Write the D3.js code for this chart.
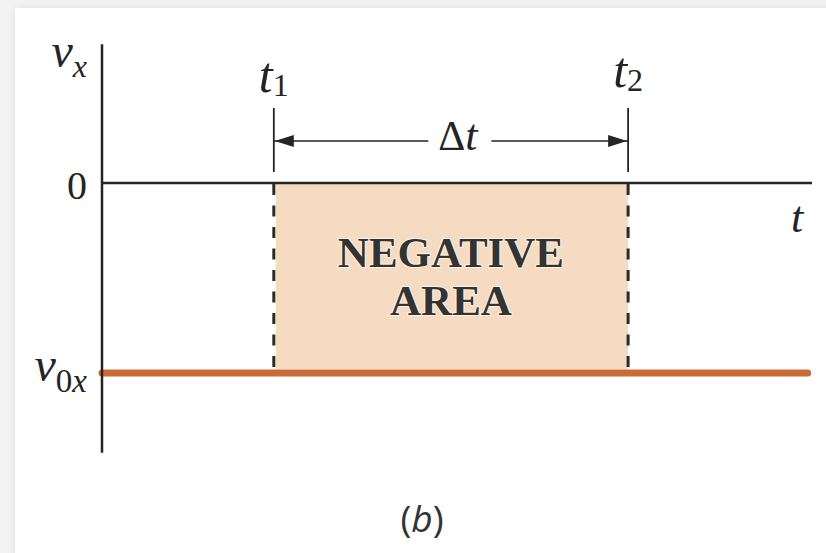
<!DOCTYPE html>
<html>
<head>
<meta charset="utf-8">
<script src="https://cdn.jsdelivr.net/npm/d3@7"></script>
<style>
  html, body { margin: 0; padding: 0; background: #f3f3f3; }
  svg { display: block; }
</style>
</head>
<body>
<svg id="chart" width="826" height="553"></svg>
<script>
// Velocity–time graph: constant negative velocity v0x between t1 and t2
const timeDomain = [0, 10];          // t axis extent
const velocityDomain = [-1, 0];      // v0x .. 0
const axisVelocityExtent = [-1.42, 0.73];
const t1 = 2.42;
const t2 = 7.41;
const tEnd = 9.94;
const v0x = -1;
const velocityTicks = [0, v0x];
const velocityTickLabels = [
  [{ text: "0", italic: false, sub: false }],
  [{ text: "v", italic: true, sub: false }, { text: "0", italic: false, sub: true }, { text: "x", italic: true, sub: true }]
];
const timeMarkers = [t1, t2];
const timeMarkerSubs = ["1", "2"];
const velocitySeries = [[0, v0x], [tEnd, v0x]];
const areaLabelLines = ["NEGATIVE", "AREA"];

const svg = d3.select("#chart");
const W = 826, H = 553;

const x = d3.scaleLinear().domain(timeDomain).range([102, 812]);
const y = d3.scaleLinear().domain(velocityDomain).range([373, 183]);

const ink = "#242424";
const mathFont = "'Liberation Serif', 'DejaVu Serif', serif";

// page backdrop with a soft card
const defs = svg.append("defs");
const shadow = defs.append("filter").attr("id", "cardShadow")
  .attr("x", "-5%").attr("y", "-5%").attr("width", "110%").attr("height", "110%");
shadow.append("feGaussianBlur").attr("in", "SourceAlpha").attr("stdDeviation", 4).attr("result", "b");
shadow.append("feComponentTransfer").attr("in", "b").attr("result", "s")
  .append("feFuncA").attr("type", "linear").attr("slope", 0.08);
const merge = shadow.append("feMerge");
merge.append("feMergeNode").attr("in", "s");
merge.append("feMergeNode").attr("in", "SourceGraphic");

svg.append("rect").attr("width", W).attr("height", H).attr("fill", "#f3f3f3");
svg.append("rect").attr("x", 15).attr("y", 8).attr("width", W).attr("height", H)
  .attr("fill", "#ffffff").attr("filter", "url(#cardShadow)");

const g = svg.append("g");

// shaded area between t1 and t2
g.append("rect")
  .attr("x", x(t1) + 2)
  .attr("y", y(0) + 1)
  .attr("width", x(t2) - x(t1) - 2)
  .attr("height", y(v0x) - y(0) - 5)
  .attr("fill", "#f4dbc2");

// dashed drop lines at t1 and t2
g.selectAll(".drop").data(timeMarkers).join("line")
  .attr("class", "drop")
  .attr("x1", d => x(d)).attr("x2", d => x(d))
  .attr("y1", y(0) + 1).attr("y2", y(v0x) - 5)
  .attr("stroke", "#2b2b2b").attr("stroke-width", 3)
  .attr("stroke-dasharray", "11 10.5");

// velocity line
g.append("path")
  .datum(velocitySeries)
  .attr("d", d3.line().x(d => x(d[0])).y(d => y(d[1])))
  .attr("fill", "none")
  .attr("stroke", "#c96a37")
  .attr("stroke-width", 7)
  .attr("stroke-linecap", "round");

// vertical axis
g.append("line")
  .attr("x1", x(0)).attr("x2", x(0))
  .attr("y1", y(axisVelocityExtent[1])).attr("y2", y(axisVelocityExtent[0]))
  .attr("stroke", ink).attr("stroke-width", 2.5);

// time axis at v = 0
g.append("line")
  .attr("x1", x(0)).attr("x2", x(timeDomain[1]))
  .attr("y1", y(0)).attr("y2", y(0))
  .attr("stroke", ink).attr("stroke-width", 2.5);

// velocity tick labels via d3 axis
const yAxis = d3.axisLeft(y).tickValues(velocityTicks).tickSize(0).tickPadding(15).tickFormat("");
const yAxisG = g.append("g").attr("transform", `translate(${x(0)},0)`).call(yAxis);
yAxisG.select(".domain").remove();
yAxisG.selectAll(".tick text").each(function (d, i) {
  const t = d3.select(this)
    .attr("font-family", mathFont)
    .attr("fill", ink)
    .attr("text-anchor", "end")
    .attr("dy", i === 0 ? 15 : 7)
    .text(null);
  velocityTickLabels[i].forEach((part, k) => {
    const span = t.append("tspan").text(part.text)
      .attr("font-style", part.italic ? "italic" : "normal")
      .attr("font-size", part.sub ? 33 : (i === 0 ? 40 : 48));
    if (part.sub && !velocityTickLabels[i][k - 1].sub) span.attr("dy", 11);
  });
});

// axis names
const vx = g.append("text")
  .attr("x", x(0) - 15).attr("y", 67)
  .attr("text-anchor", "end")
  .attr("font-family", mathFont).attr("fill", ink);
vx.append("tspan").text("v").attr("font-style", "italic").attr("font-size", 48);
vx.append("tspan").text("x").attr("font-style", "italic").attr("font-size", 32).attr("dy", 10);

g.append("text")
  .attr("x", 797).attr("y", 232)
  .attr("text-anchor", "middle")
  .attr("font-family", mathFont).attr("font-style", "italic")
  .attr("font-size", 44).attr("fill", ink)
  .text("t");

// marker ticks above the axis with t1 / t2 labels
g.selectAll(".mark").data(timeMarkers).join("line")
  .attr("class", "mark")
  .attr("x1", d => x(d)).attr("x2", d => x(d))
  .attr("y1", 108).attr("y2", 172)
  .attr("stroke", ink).attr("stroke-width", 1.8);

g.selectAll(".markLabel").data(timeMarkers).join("text")
  .attr("class", "markLabel")
  .attr("x", d => x(d))
  .attr("y", (d, i) => i === 0 ? 92 : 87)
  .attr("text-anchor", "middle")
  .attr("font-family", mathFont).attr("fill", ink)
  .each(function (d, i) {
    const t = d3.select(this);
    t.append("tspan").text("t").attr("font-style", "italic").attr("font-size", 50);
    t.append("tspan").text(timeMarkerSubs[i]).attr("font-size", 32).attr("dy", 4);
  });

// Δt interval arrow
const arrowY = 141;
const dt = g.append("text")
  .attr("x", (x(t1) + x(t2)) / 2 + 7).attr("y", 150)
  .attr("text-anchor", "middle")
  .attr("font-family", mathFont).attr("fill", ink);
dt.append("tspan").text("Δ").attr("font-size", 42);
dt.append("tspan").text("t").attr("font-style", "italic").attr("font-size", 44);
const bb = dt.node().getBBox();

g.append("line")
  .attr("x1", x(t1)).attr("x2", bb.x - 10)
  .attr("y1", arrowY).attr("y2", arrowY)
  .attr("stroke", ink).attr("stroke-width", 1.6);
g.append("line")
  .attr("x1", bb.x + bb.width + 12).attr("x2", x(t2))
  .attr("y1", arrowY).attr("y2", arrowY)
  .attr("stroke", ink).attr("stroke-width", 1.6);

const head = (tip, dir) => `M${tip},${arrowY} L${tip + dir * 19},${arrowY - 6} L${tip + dir * 19},${arrowY + 6} Z`;
g.append("path").attr("d", head(x(t1) + 1, 1)).attr("fill", ink);
g.append("path").attr("d", head(x(t2) - 1, -1)).attr("fill", ink);

// area caption
const areaMid = (x(t1) + x(t2)) / 2;
g.selectAll(".areaLabel").data(areaLabelLines).join("text")
  .attr("class", "areaLabel")
  .attr("x", areaMid)
  .attr("y", (d, i) => 267 + i * 48)
  .attr("text-anchor", "middle")
  .attr("font-family", "'Liberation Serif', serif")
  .attr("font-weight", "bold")
  .attr("font-size", 43)
  .attr("fill", "#333333")
  .attr("stroke", "#fff3e2")
  .attr("stroke-width", 2)
  .attr("paint-order", "stroke")
  .text(d => d);

// panel caption
const cap = g.append("text")
  .attr("x", 422).attr("y", 532)
  .attr("text-anchor", "middle")
  .attr("font-family", "'Open Sans', 'DejaVu Sans', sans-serif")
  .attr("font-size", 37).attr("fill", "#333333");
cap.append("tspan").text("(");
cap.append("tspan").text("b").attr("font-style", "italic");
cap.append("tspan").text(")");
</script>
</body>
</html>
